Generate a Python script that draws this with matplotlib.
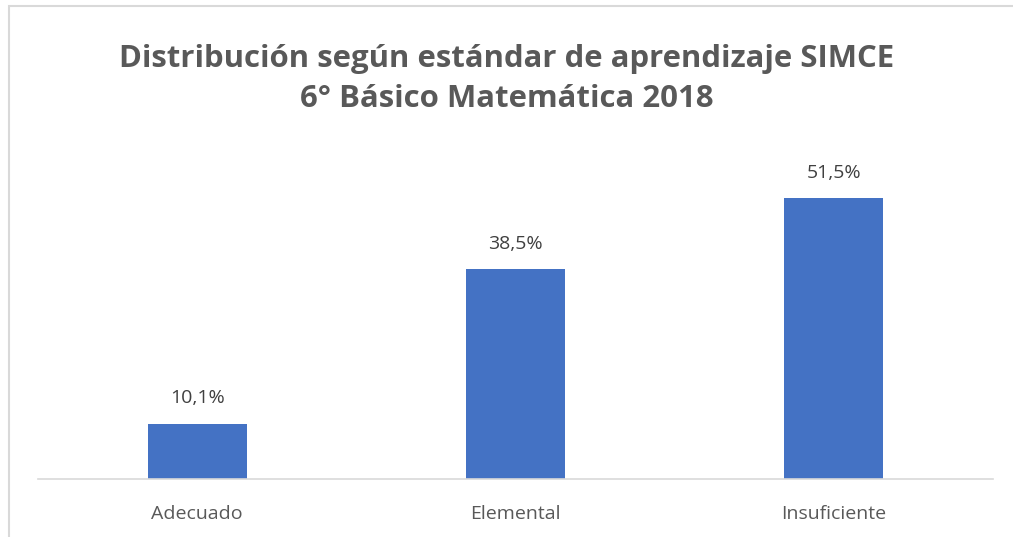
import matplotlib.pyplot as plt
from matplotlib.patches import Rectangle

categories = ["Adecuado", "Elemental", "Insuficiente"]
values = [10.1, 38.5, 51.5]
value_labels = ["10,1%", "38,5%", "51,5%"]
title = "Distribución según estándar de aprendizaje SIMCE\n6° Básico Matemática 2018"

plt.rcParams["font.family"] = ["Open Sans", "DejaVu Sans"]

W, H = 1013, 537
fig = plt.figure(figsize=(W / 100, H / 100), dpi=100)
ax = fig.add_axes([38 / W, (H - 479) / H, (993 - 38) / W, (479 - 152) / H])

x = range(len(categories))
bars = ax.bar(x, values, width=0.31, color="#4472C4")
for b, lab in zip(bars, value_labels):
    ax.text(b.get_x() + b.get_width() / 2, b.get_height() + 4.7, lab,
            ha="center", va="center", fontsize=14, color="#404040")

ax.set_xlim(-0.5, len(categories) - 0.5)
ax.set_ylim(0, 60)
ax.set_xticks(list(x))
ax.set_xticklabels(categories, fontsize=14, color="#595959")
ax.tick_params(axis="x", length=0, pad=19)
ax.set_yticks([])
for s in ["top", "right", "left"]:
    ax.spines[s].set_visible(False)
ax.spines["bottom"].set_color("#D9D9D9")
ax.spines["bottom"].set_linewidth(1.2)

fig.text(0.5, 1 - 79 / H, title, ha="center", va="center", fontsize=22.4,
         fontweight="bold", color="#595959", linespacing=1.42)

# chart border (extends past the right/bottom edge of the image)
fig.patches.append(Rectangle((9 / W, -0.1), 1.2, 1 - 6 / H + 0.1,
                             transform=fig.transFigure, fill=False,
                             edgecolor="#D9D9D9", linewidth=1.5))

fig.savefig("out.png", dpi=100)
